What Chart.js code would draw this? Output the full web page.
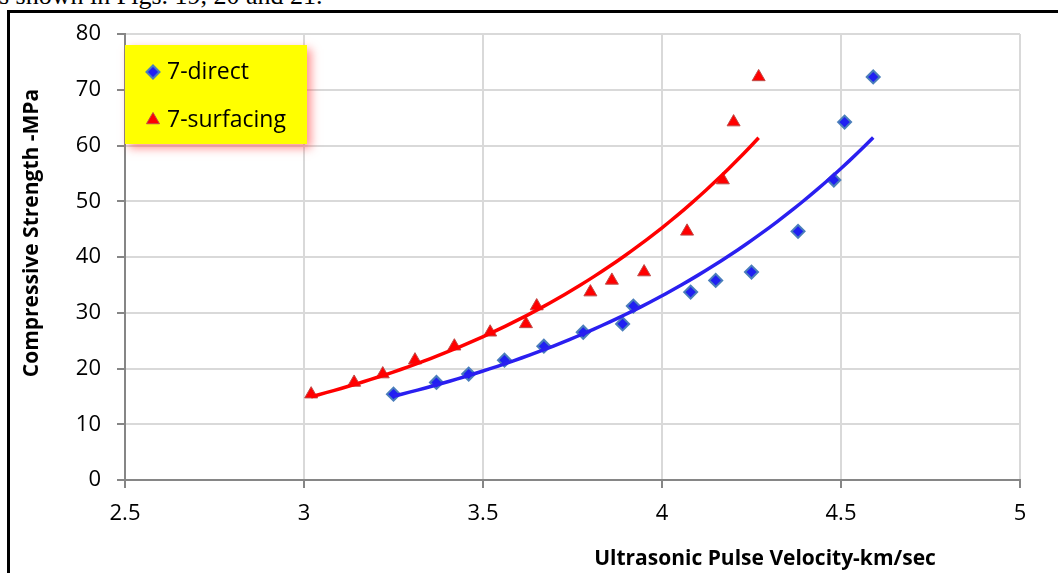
<!DOCTYPE html>
<html>
<head>
<meta charset="utf-8">
<script src="https://cdn.jsdelivr.net/npm/chart.js@4.4.1/dist/chart.umd.min.js"></script>
<style>
  html, body { margin: 0; padding: 0; background: #fff; }
  #wrap { position: relative; width: 1058px; height: 573px; overflow: hidden; }
  #caption {
    position: absolute; left: -1px; top: -17px;
    font-family: "Liberation Serif", "Times New Roman", serif;
    font-size: 26px; line-height: 26px; color: #000; white-space: nowrap;
  }
  #frame {
    position: absolute; left: 7px; top: 10px; width: 1100px; height: 600px;
    border-top: 3px solid #000; border-left: 3px solid #000;
  }
  canvas { position: absolute; left: 0; top: 0; }
</style>
</head>
<body>
<div id="wrap">
  <div id="caption">s shown in Figs. 19, 20 and 21.</div>
  <div id="frame"></div>
  <canvas id="chart" width="1058" height="573"></canvas>
</div>
<script>
// compressive strength (MPa), shared by both test methods
const strength = [15.4, 17.5, 19.0, 21.5, 24.0, 26.5, 28.0, 31.2, 33.7, 35.8, 37.3, 44.6, 53.8, 64.2, 72.3];
// pulse velocity (km/sec)
const velocityDirect = [3.25, 3.37, 3.46, 3.56, 3.67, 3.78, 3.89, 3.92, 4.08, 4.15, 4.25, 4.38, 4.48, 4.51, 4.59];
const velocitySurfacing = [3.02, 3.14, 3.22, 3.31, 3.42, 3.52, 3.62, 3.65, 3.80, 3.86, 3.95, 4.07, 4.17, 4.20, 4.27];

const seriesNames = ['7-direct', '7-surfacing'];
const xRange = [2.5, 5];
const yRange = [0, 80];

const FONT = '"Open Sans", "Noto Sans", sans-serif';

function toPoints(xs, ys) {
  return xs.map((x, i) => ({ x: x, y: ys[i] }));
}

// exponential least-squares trendline (y = a*e^(bx)), like Excel's
function expTrend(xs, ys) {
  const n = xs.length;
  const ly = ys.map(Math.log);
  const mx = xs.reduce((s, v) => s + v, 0) / n;
  const my = ly.reduce((s, v) => s + v, 0) / n;
  let sxy = 0, sxx = 0;
  for (let i = 0; i < n; i++) {
    sxy += (xs[i] - mx) * (ly[i] - my);
    sxx += (xs[i] - mx) * (xs[i] - mx);
  }
  const b = sxy / sxx;
  const a = Math.exp(my - b * mx);
  const x0 = Math.min(...xs), x1 = Math.max(...xs);
  const pts = [];
  for (let i = 0; i <= 60; i++) {
    const x = x0 + (x1 - x0) * i / 60;
    pts.push({ x: x, y: a * Math.exp(b * x) });
  }
  return pts;
}

const blueFill = '#2020f2';
const blueEdge = '#4a7ebb';
const redFill = '#ff0000';
const redEdge = '#be4b48';

const legendBox = {
  id: 'legendBox',
  afterDatasetsDraw(chart) {
    const ctx = chart.ctx;
    const left = chart.chartArea.left;
    const top = chart.chartArea.top;
    ctx.save();
    ctx.shadowColor = 'rgba(255, 70, 70, 0.6)';
    ctx.shadowBlur = 9;
    ctx.shadowOffsetX = 4;
    ctx.shadowOffsetY = 4;
    ctx.fillStyle = '#ffff00';
    ctx.fillRect(left, top + 11, 182, 99);
    ctx.restore();

    const rows = [chart.data.datasets[2], chart.data.datasets[3]];
    rows.forEach((ds, i) => {
      const y = top + 38 + i * 48;
      ctx.save();
      ctx.fillStyle = ds.backgroundColor;
      ctx.strokeStyle = ds.borderColor;
      ctx.lineWidth = ds.borderWidth;
      Chart.helpers.drawPoint(ctx, {
        pointStyle: ds.pointStyle, radius: ds.pointRadius, rotation: 0, borderWidth: ds.borderWidth
      }, left + 28, y);
      ctx.restore();
      ctx.save();
      ctx.fillStyle = '#000';
      ctx.font = '23px ' + FONT;
      ctx.textBaseline = 'middle';
      ctx.fillText(ds.label, left + 42, y);
      ctx.restore();
    });
  }
};

const axisTitles = {
  id: 'axisTitles',
  afterDraw(chart) {
    const ctx = chart.ctx;
    ctx.save();
    ctx.fillStyle = '#000';
    ctx.font = 'bold 21px ' + FONT;
    ctx.textAlign = 'center';
    ctx.textBaseline = 'alphabetic';
    ctx.fillText('Ultrasonic Pulse Velocity-km/sec', 765, 565);
    ctx.translate(38, 233);
    ctx.rotate(-Math.PI / 2);
    ctx.fillText('Compressive Strength -MPa', 0, 0);
    ctx.restore();
  }
};

new Chart(document.getElementById('chart'), {
  type: 'scatter',
  data: {
    datasets: [{
      label: 'trend-direct',
      data: expTrend(velocityDirect, strength),
      showLine: true,
      pointRadius: 0,
      borderColor: '#2a1ff0',
      borderWidth: 3.5,
      tension: 0
    }, {
      label: 'trend-surfacing',
      data: expTrend(velocitySurfacing, strength),
      showLine: true,
      pointRadius: 0,
      borderColor: '#ff0000',
      borderWidth: 3.5,
      tension: 0
    }, {
      label: seriesNames[0],
      data: toPoints(velocityDirect, strength),
      pointStyle: 'rectRot',
      pointRadius: 6.5,
      borderWidth: 2,
      backgroundColor: blueFill,
      borderColor: blueEdge
    }, {
      label: seriesNames[1],
      data: toPoints(velocitySurfacing, strength),
      pointStyle: 'triangle',
      pointRadius: 7.5,
      borderWidth: 1,
      backgroundColor: redFill,
      borderColor: redEdge
    }]
  },
  options: {
    responsive: false,
    animation: false,
    layout: { padding: { left: 0, top: 34, right: 38, bottom: 0 } },
    plugins: {
      legend: { display: false },
      tooltip: { enabled: false }
    },
    scales: {
      x: {
        type: 'linear',
        min: xRange[0],
        max: xRange[1],
        afterFit: s => { s.height = 93; },
        ticks: {
          stepSize: 0.5,
          padding: 13,
          color: '#000',
          font: { family: FONT, size: 22 },
          callback: v => String(v)
        },
        grid: { color: '#d9d9d9', lineWidth: 2, tickColor: '#868686', tickLength: 8 },
        border: { color: '#868686', width: 2 }
      },
      y: {
        min: yRange[0],
        max: yRange[1],
        afterFit: s => { s.width = 125; },
        ticks: {
          stepSize: 10,
          padding: 16,
          color: '#000',
          font: { family: FONT, size: 22 },
          callback: v => String(v)
        },
        grid: { color: '#d9d9d9', lineWidth: 2, tickColor: '#868686', tickLength: 8 },
        border: { color: '#868686', width: 2 }
      }
    }
  },
  plugins: [legendBox, axisTitles]
});
</script>
</body>
</html>
